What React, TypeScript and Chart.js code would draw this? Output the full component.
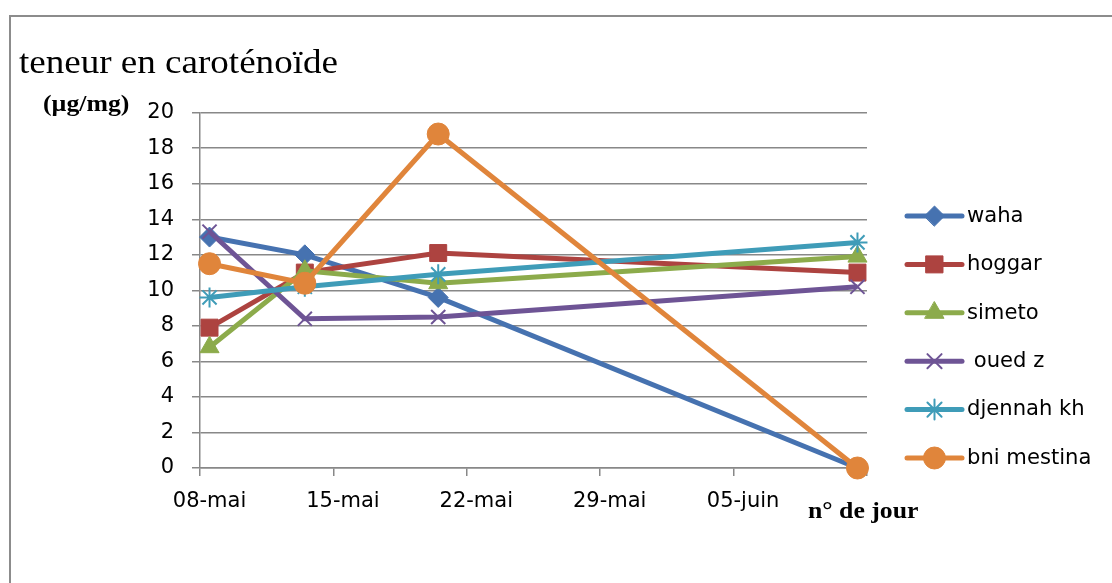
import React, { useEffect, useRef } from "react";
import { Chart, registerables } from "chart.js";
import { drawPoint } from "chart.js/helpers";

Chart.register(...registerables);

// Sampling days, counted from 08-mai
const sampleDays = [0, 5, 12, 34];

// Carotenoid content (µg/mg) per variety
const waha = [13.0, 12.0, 9.6, 0];
const hoggar = [7.9, 11.0, 12.1, 11.0];
const simeto = [6.8, 11.1, 10.4, 11.9];
const ouedZ = [13.3, 8.4, 8.5, 10.2];
const djennahKh = [9.6, 10.2, 10.9, 12.7];
const bniMestina = [11.5, 10.4, 18.8, 0];

const seriesNames = ["waha", "hoggar", "simeto", " oued z", "djennah kh", "bni mestina"];
const seriesValues = [waha, hoggar, simeto, ouedZ, djennahKh, bniMestina];
const seriesColors = ["#4672B0", "#AD4340", "#8CAB4B", "#6E5495", "#3F9CB8", "#E0853B"];
const seriesMarkers = ["rectRot", "rect", "triangle", "crossRot", "star", "circle"];
const markerRadius = [10, 12, 11, 10, 10, 11];

// Weekly date ticks (boundaries between day slots) and their labels
const weekTicks = [-0.5, 6.5, 13.5, 20.5, 27.5, 34.5];
const weekLabels = ["08-mai", "15-mai", "22-mai", "29-mai", "05-juin", ""];

const yTicksMin = 0;
const yTicksMax = 20;
const yTicksStep = 2;

const titleText = "teneur en caroténoïde";
const unitText = "(µg/mg)";
const xTitleText = "n° de jour";

const GRID = "#888888";
const SANS = '"DejaVu Sans", sans-serif';
const SERIF = '"Liberation Serif", "Times New Roman", serif';

function stretchedText(ctx: CanvasRenderingContext2D, text: string, x: number, y: number, sx: number) {
  ctx.save();
  ctx.translate(x, y);
  ctx.scale(sx, 1);
  ctx.fillText(text, 0, 0);
  ctx.restore();
}

const decorations = {
  id: "decorations",
  beforeDraw(chart: any) {
    const ctx = chart.ctx as CanvasRenderingContext2D;
    ctx.save();
    ctx.fillStyle = "#ffffff";
    ctx.fillRect(0, 0, chart.width, chart.height);
    ctx.strokeStyle = "#8c8c8c";
    ctx.lineWidth = 2;
    ctx.strokeRect(10, 16, chart.width + 20, chart.height + 20);
    ctx.restore();
  },
  afterDraw(chart: any) {
    const ctx = chart.ctx as CanvasRenderingContext2D;
    ctx.save();
    ctx.fillStyle = "#000000";
    ctx.textAlign = "left";
    ctx.textBaseline = "alphabetic";

    ctx.font = `34px ${SERIF}`;
    stretchedText(ctx, titleText, 19, 73, 1.09);

    ctx.font = `bold 23px ${SERIF}`;
    stretchedText(ctx, unitText, 43, 111, 1.12);

    ctx.font = `bold 23px ${SERIF}`;
    stretchedText(ctx, xTitleText, 808, 518, 1.12);

    // legend: line sample with marker, then the series name
    const x0 = 907;
    const x1 = 962;
    const top = 216;
    const step = 48.4;
    chart.data.datasets.forEach((ds: any, i: number) => {
      const y = top + i * step;
      ctx.strokeStyle = ds.borderColor;
      ctx.lineWidth = 5;
      ctx.lineCap = "round";
      ctx.beginPath();
      ctx.moveTo(x0, y);
      ctx.lineTo(x1, y);
      ctx.stroke();
      ctx.fillStyle = ds.pointBackgroundColor;
      ctx.strokeStyle = ds.pointBorderColor;
      ctx.lineWidth = ds.pointBorderWidth;
      drawPoint(ctx, { pointStyle: ds.pointStyle, radius: ds.pointRadius, borderWidth: ds.pointBorderWidth, rotation: 0 } as any, (x0 + x1) / 2, y);
      ctx.fillStyle = "#000000";
      ctx.font = `22px ${SANS}`;
      ctx.textBaseline = "middle";
      stretchedText(ctx, ds.label, 967, y, 0.96);
    });
    ctx.restore();
  },
};

export default function App() {
  const canvasRef = useRef<HTMLCanvasElement | null>(null);

  useEffect(() => {
    if (!canvasRef.current) return;
    const datasets = seriesNames.map((name, i) => {
      const lined = seriesMarkers[i] === "crossRot" || seriesMarkers[i] === "star";
      return {
        label: name,
        data: sampleDays.map((d, k) => ({ x: d, y: seriesValues[i][k] })),
        borderColor: seriesColors[i],
        backgroundColor: seriesColors[i],
        borderWidth: 5,
        pointStyle: seriesMarkers[i],
        pointRadius: markerRadius[i],
        pointBackgroundColor: seriesColors[i],
        pointBorderColor: seriesColors[i],
        pointBorderWidth: lined ? 2 : 1,
        tension: 0,
        clip: false as any,
        order: seriesNames.length - 1 - i,
      };
    });

    const chart = new Chart(canvasRef.current, {
      type: "line",
      data: { datasets: datasets as any },
      plugins: [decorations],
      options: {
        animation: false,
        responsive: true,
        maintainAspectRatio: false,
        layout: { padding: { left: 0, top: 112.7, right: 245, bottom: 55 } },
        plugins: {
          legend: { display: false },
          tooltip: { enabled: false },
          title: { display: false },
        },
        scales: {
          x: {
            type: "linear",
            min: weekTicks[0],
            max: weekTicks[weekTicks.length - 1],
            afterBuildTicks: (scale: any) => {
              scale.ticks = weekTicks.map((v) => ({ value: v }));
            },
            afterFit: (scale: any) => {
              scale.height = 60;
            },
            ticks: {
              autoSkip: false,
              maxRotation: 0,
              minRotation: 0,
              labelOffset: 9.5,
              padding: 13,
              color: "#000000",
              font: { family: SANS, size: 21 },
              callback: (_v: any, index: number) => weekLabels[index],
            },
            grid: {
              drawOnChartArea: false,
              drawTicks: true,
              tickLength: 8,
              color: GRID,
              lineWidth: 1.5,
            },
            border: { display: true, color: GRID, width: 1.5 },
          },
          y: {
            type: "linear",
            min: yTicksMin,
            max: yTicksMax,
            afterFit: (scale: any) => {
              scale.width = 200;
            },
            ticks: {
              stepSize: yTicksStep,
              padding: 18,
              color: "#000000",
              font: { family: SANS, size: 21 },
            },
            grid: {
              color: GRID,
              lineWidth: 1.5,
              tickLength: 8,
            },
            border: { display: true, color: GRID, width: 1.5 },
          },
        },
      },
    });
    return () => chart.destroy();
  }, []);

  return (
    <div style={{ position: "absolute", left: 0, top: 0, width: 1112, height: 583 }}>
      <canvas ref={canvasRef} />
    </div>
  );
}
